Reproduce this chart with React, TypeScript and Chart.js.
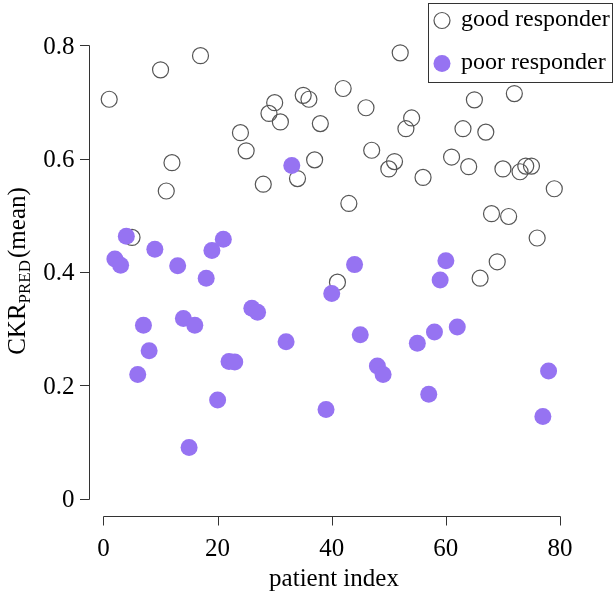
import { useEffect, useRef } from 'react';
import { Chart, registerables } from 'chart.js';

Chart.register(...registerables);

// ---- data ----
const goodIndex = [1, 5, 10, 11, 12, 17, 24, 25, 28, 29, 30, 31, 34, 35, 36, 37, 38, 41, 42, 43, 46, 47, 50, 51, 52, 53, 54, 56, 61, 63, 64, 65, 66, 67, 68, 69, 70, 71, 72, 73, 74, 75, 76, 79];
const goodValue = [0.705, 0.461, 0.757, 0.543, 0.593, 0.782, 0.646, 0.614, 0.555, 0.68, 0.699, 0.665, 0.565, 0.712, 0.705, 0.598, 0.662, 0.382, 0.724, 0.521, 0.69, 0.615, 0.582, 0.595, 0.787, 0.653, 0.672, 0.567, 0.603, 0.653, 0.586, 0.704, 0.389, 0.647, 0.503, 0.418, 0.582, 0.498, 0.715, 0.577, 0.587, 0.587, 0.46, 0.547];
const poorIndex = [2, 3, 4, 6, 7, 8, 9, 13, 14, 15, 16, 18, 19, 20, 21, 22, 23, 26, 27, 32, 33, 39, 40, 44, 45, 48, 49, 55, 57, 58, 59, 60, 62, 77, 78];
const poorValue = [0.423, 0.412, 0.463, 0.219, 0.306, 0.261, 0.44, 0.411, 0.318, 0.09, 0.306, 0.389, 0.438, 0.174, 0.458, 0.242, 0.241, 0.336, 0.329, 0.277, 0.588, 0.157, 0.362, 0.413, 0.289, 0.234, 0.219, 0.274, 0.184, 0.294, 0.386, 0.42, 0.303, 0.145, 0.225];

const seriesLabels = ['good responder', 'poor responder'];
const xTicks = [0, 20, 40, 60, 80];
const xTickLabels = ['0', '20', '40', '60', '80'];
const yTicks = [0, 0.2, 0.4, 0.6, 0.8];
const yTickLabels = ['0', '0.2', '0.4', '0.6', '0.8'];
const xTitle = 'patient index';
const yTitleMain = 'CKR';
const yTitleSub = 'PRED';
const yTitleTail = '(mean)';

const FONT = '"Liberation Serif", "Times New Roman", serif';
const PURPLE = '#9673f2';
const GREY = '#555555';
const AXIS = '#333333';

const rAxesPlugin = {
  id: 'rAxes',
  afterDraw(chart: any) {
    const ctx: CanvasRenderingContext2D = chart.ctx;
    const xs = chart.scales.x;
    const ys = chart.scales.y;
    const area = chart.chartArea;
    ctx.save();
    ctx.strokeStyle = AXIS;
    ctx.lineWidth = 1;
    ctx.fillStyle = '#000';
    ctx.font = `25px ${FONT}`;

    // y axis
    const ax = Math.round(area.left) + 0.5;
    const yp = yTicks.map((v) => ys.getPixelForValue(v));
    ctx.beginPath();
    ctx.moveTo(ax, Math.round(yp[0]) + 0.5);
    ctx.lineTo(ax, Math.round(yp[yp.length - 1]) + 0.5);
    yp.forEach((p) => {
      ctx.moveTo(ax, Math.round(p) + 0.5);
      ctx.lineTo(ax - 9.5, Math.round(p) + 0.5);
    });
    ctx.stroke();
    ctx.textAlign = 'right';
    ctx.textBaseline = 'alphabetic';
    yp.forEach((p, i) => ctx.fillText(yTickLabels[i], ax - 15, p + 8.3));

    // x axis
    const ay = Math.round(area.bottom) + 0.5;
    const xp = xTicks.map((v) => xs.getPixelForValue(v));
    ctx.beginPath();
    ctx.moveTo(Math.round(xp[0]) + 0.5, ay);
    ctx.lineTo(Math.round(xp[xp.length - 1]) + 0.5, ay);
    xp.forEach((p) => {
      ctx.moveTo(Math.round(p) + 0.5, ay);
      ctx.lineTo(Math.round(p) + 0.5, ay + 9);
    });
    ctx.stroke();
    ctx.textAlign = 'center';
    xp.forEach((p, i) => ctx.fillText(xTickLabels[i], p, ay + 39));

    // x title
    ctx.fillText(xTitle, 334, 586);

    // y title (rotated, with subscript)
    ctx.save();
    ctx.font = `25px ${FONT}`;
    const w1 = ctx.measureText(yTitleMain).width;
    const w3 = ctx.measureText(yTitleTail).width;
    ctx.font = `17px ${FONT}`;
    const w2 = ctx.measureText(yTitleSub).width;
    const total = w1 + w2 + 2 + w3;
    ctx.translate(25, 271 + total / 2);
    ctx.rotate(-Math.PI / 2);
    ctx.textAlign = 'left';
    ctx.font = `25px ${FONT}`;
    ctx.fillText(yTitleMain, 0, 0);
    ctx.font = `17px ${FONT}`;
    ctx.fillText(yTitleSub, w1, 5);
    ctx.font = `25px ${FONT}`;
    ctx.fillText(yTitleTail, w1 + w2 + 2, 0);
    ctx.restore();

    // legend box
    ctx.strokeStyle = AXIS;
    ctx.lineWidth = 1;
    ctx.strokeRect(428.5, 3.5, 184, 79);
    const ds = chart.data.datasets;
    const rows = [20.5, 63.5];
    ds.forEach((d: any, i: number) => {
      const cy = rows[i];
      ctx.beginPath();
      ctx.arc(442, cy, d.pointRadius, 0, Math.PI * 2);
      if (d.backgroundColor && d.backgroundColor !== 'rgba(0,0,0,0)') {
        ctx.fillStyle = d.backgroundColor;
        ctx.fill();
      }
      if (d.pointBorderWidth > 0) {
        ctx.strokeStyle = d.borderColor;
        ctx.lineWidth = d.pointBorderWidth;
        ctx.stroke();
      }
      ctx.fillStyle = '#000';
      ctx.textAlign = 'left';
      ctx.font = `24px ${FONT}`;
      ctx.fillText(d.label, 461, cy + 5.5);
    });
    ctx.restore();
  },
};

export default function App() {
  const ref = useRef<HTMLCanvasElement>(null);
  useEffect(() => {
    const good = goodIndex.map((x, i) => ({ x, y: goodValue[i] }));
    const poor = poorIndex.map((x, i) => ({ x, y: poorValue[i] }));
    const chart = new Chart(ref.current as HTMLCanvasElement, {
      type: 'scatter',
      data: {
        datasets: [
          {
            label: seriesLabels[0],
            data: good,
            backgroundColor: 'rgba(0,0,0,0)',
            borderColor: GREY,
            pointBorderWidth: 1.2,
            pointRadius: 8,
            order: 2,
          } as any,
          {
            label: seriesLabels[1],
            data: poor,
            backgroundColor: PURPLE,
            borderColor: PURPLE,
            pointBorderWidth: 0,
            pointRadius: 8.5,
            order: 1,
          } as any,
        ],
      },
      options: {
        responsive: false,
        devicePixelRatio: 1,
        animation: false,
        events: [],
        layout: { autoPadding: false, padding: { left: 89, top: 3, right: 3, bottom: 81 } },
        plugins: { legend: { display: false }, tooltip: { enabled: false } },
        scales: {
          x: { type: 'linear', display: false, min: -2.54, max: 89.29 },
          y: { type: 'linear', display: false, min: -0.0309, max: 0.875 },
        },
      } as any,
      plugins: [rAxesPlugin],
    });
    return () => chart.destroy();
  }, []);
  return (
    <div style={{ position: 'fixed', left: 0, top: 0, width: 616, height: 597, background: '#fff' }}>
      <canvas ref={ref} width={616} height={597} style={{ display: 'block', width: 616, height: 597 }} />
    </div>
  );
}
